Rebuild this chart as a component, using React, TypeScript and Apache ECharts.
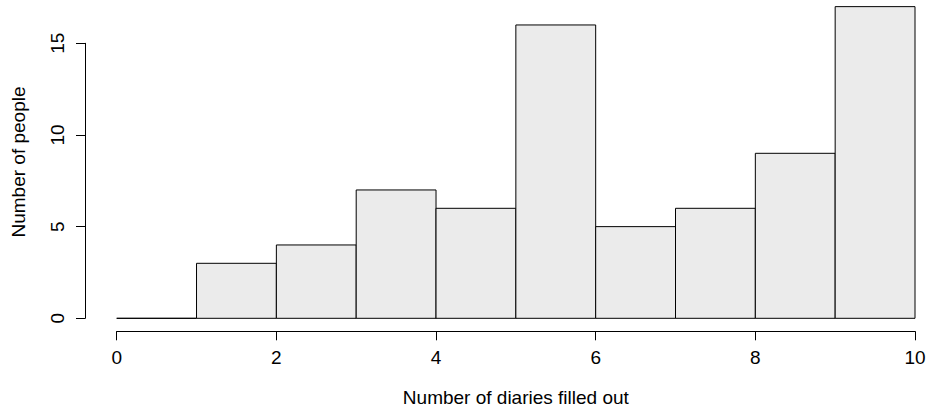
import React, { useEffect, useRef } from "react";
import * as echarts from "echarts";

const binStarts = [0, 1, 2, 3, 4, 5, 6, 7, 8, 9];
const binEnds = [1, 2, 3, 4, 5, 6, 7, 8, 9, 10];
const counts = [0, 3, 4, 7, 6, 16, 5, 6, 9, 17];
const xTicks = [0, 2, 4, 6, 8, 10];
const yTicks = [0, 5, 10, 15];
const xTitle = "Number of diaries filled out";
const yTitle = "Number of people";

const FONT = "'Liberation Sans', Arial, Helvetica, sans-serif";
const FS = 19;

export default function App() {
  const ref = useRef<HTMLDivElement>(null);
  useEffect(() => {
    if (!ref.current) return;
    const chart = echarts.init(ref.current, undefined, { renderer: "svg" });
    const data = binStarts.map((s, i) => [s, binEnds[i], counts[i]]);
    chart.setOption({
      animation: false,
      backgroundColor: "#ffffff",
      textStyle: { fontFamily: FONT },
      grid: {
        left: 116.7,
        right: 12,
        top: 43.3,
        bottom: 408 - 318.3,
        containLabel: false,
        outerBoundsMode: "none",
      },
      xAxis: {
        type: "value",
        min: xTicks[0],
        max: xTicks[xTicks.length - 1],
        interval: 2,
        offset: 13,
        splitLine: { show: false },
        axisLine: { show: true, onZero: false, lineStyle: { color: "#000", width: 1 } },
        axisTick: { show: true, length: 9, lineStyle: { color: "#000" } },
        axisLabel: { fontSize: FS, color: "#000", margin: 17, fontFamily: FONT },
        name: xTitle,
        nameLocation: "middle",
        nameGap: 57,
        nameTextStyle: { fontSize: FS, color: "#000", fontFamily: FONT },
      },
      yAxis: {
        type: "value",
        min: yTicks[0],
        max: yTicks[yTicks.length - 1],
        interval: 5,
        offset: 31.7,
        splitLine: { show: false },
        axisLine: { show: true, onZero: false, lineStyle: { color: "#000", width: 1 } },
        axisTick: { show: true, length: 9, lineStyle: { color: "#000" } },
        axisLabel: { fontSize: FS, color: "#000", margin: 18, rotate: 90, fontFamily: FONT },
      },
      graphic: [
        {
          type: "text",
          x: 18,
          y: 162,
          rotation: Math.PI / 2,
          style: {
            text: yTitle,
            fontSize: FS,
            fontFamily: FONT,
            fill: "#000",
            textAlign: "center",
            textVerticalAlign: "middle",
          },
        },
      ],
      series: [
        {
          type: "custom",
          clip: false,
          data,
          encode: { x: [0, 1], y: 2 },
          renderItem: (params: any, api: any) => {
            const x0 = api.value(0);
            const x1 = api.value(1);
            const c = api.value(2);
            const p0 = api.coord([x0, 0]);
            const p1 = api.coord([x1, c]);
            return {
              type: "polygon",
              shape: {
                points: [
                  [p0[0], p0[1]],
                  [p1[0], p0[1]],
                  [p1[0], p1[1]],
                  [p0[0], p1[1]],
                ],
              },
              style: { fill: "#ebebeb", stroke: "#000", lineWidth: 1 },
            };
          },
        },
      ],
    });
    return () => chart.dispose();
  }, []);
  return <div ref={ref} style={{ width: 927, height: 408, position: "absolute", left: 0, top: 0 }} />;
}
